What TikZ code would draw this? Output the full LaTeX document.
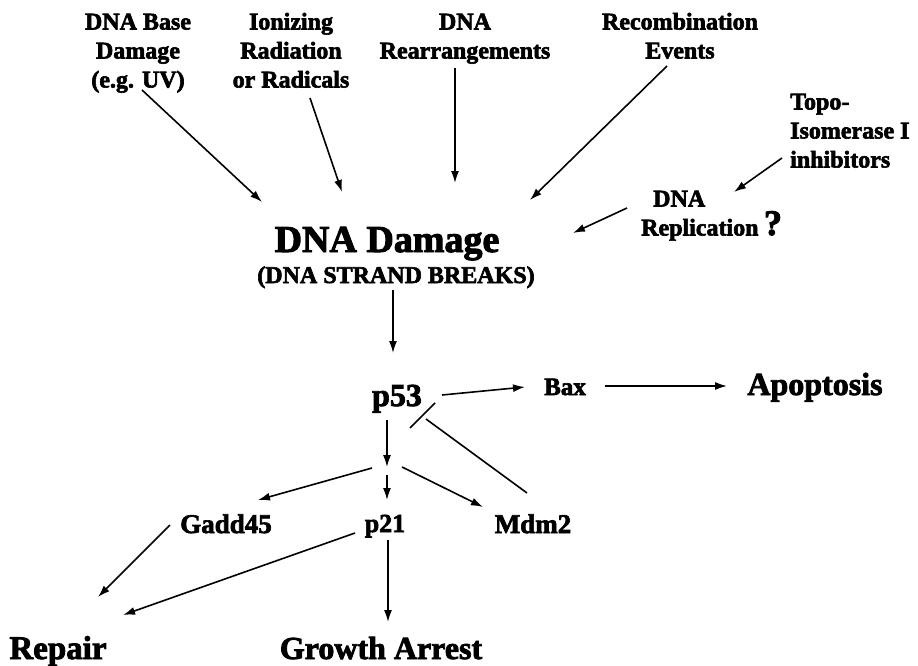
\documentclass[tikz,border=0pt]{standalone}
\usepackage{fontspec}
\setmainfont{Liberation Serif}[BoldFeatures={FakeBold=2.5}]
\usetikzlibrary{arrows.meta}
\begin{document}
\begin{tikzpicture}[x=1pt,y=-1pt,
  every node/.style={inner sep=0pt},
  lbl/.style={font=\bfseries\fontsize{24}{29}\selectfont, align=center, anchor=north},
  txt/.style={anchor=base, font=\bfseries\fontsize{#1}{#1}\selectfont},
  arr/.style={line width=1.6pt, -{Latex[length=12pt,width=8pt]}},
  ln/.style={line width=1.6pt}]
\useasboundingbox (0,0) rectangle (918,666);
% top labels
\node[lbl] (base) at (138,9) {\strut DNA Base\\\strut Damage\\\strut (e.g. UV)};
\node[lbl] (ion) at (291,9) {\strut Ionizing\\\strut Radiation\\\strut or Radicals};
\node[lbl] (rearr) at (465,9) {\strut DNA\\\strut Rearrangements};
\node[lbl] (recomb) at (680,9) {\strut Recombination\\\strut Events};
\node[lbl, align=left, anchor=north west] (topo) at (790,89) {\strut Topo-\\\strut Isomerase I\\\strut inhibitors};
\node[lbl, align=left, anchor=north west] (repl) at (641,186) {\strut\hspace*{12pt}DNA\\\strut Replication};
\node[txt=36] (q) at (773,235) {?};
% centre
\node[txt=38] (dmg) at (387,252) {DNA Damage};
\node[txt=24] (sb) at (396,283) {(DNA STRAND BREAKS)};
\node[txt=32] (p53) at (397,406) {p53};
\node[txt=25] (bax) at (565,395) {Bax};
\node[txt=32] (apo) at (815,395) {Apoptosis};
\coordinate (j) at (387,471);
\node[txt=27] (gadd) at (226,533) {Gadd45};
\node[txt=26] (p21) at (385,532) {p21};
\node[txt=27] (mdm2) at (533,533) {Mdm2};
\node[txt=33] (repair) at (58,659) {Repair};
\node[txt=32] (growth) at (381,659) {Growth Arrest};
% arrows into DNA damage
\draw[arr] ([shift={(4,81)}]base.north) -- ([shift={(-125,-50)}]dmg.base);
\draw[arr] ([shift={(19,89)}]ion.north) -- ([shift={(-45,-60)}]dmg.base);
\draw[arr] ([shift={(-10,59)}]rearr.north) -- ([shift={(68,-69)}]dmg.base);
\draw[arr] ([shift={(-13,57)}]recomb.north) -- ([shift={(143,-52)}]dmg.base);
\draw[arr] ([shift={(-8,69)}]topo.north west) -- ([shift={(93,6)}]repl.north west);
\draw[arr] ([shift={(-14,22)}]repl.north west) -- ([shift={(186,-19)}]dmg.base);
% p53 pathway
\draw[arr] ([shift={(-3,7)}]sb.base) -- ([shift={(-4,-53)}]p53.base);
\draw[arr] ([shift={(45,-11)}]p53.base) -- ([shift={(-40,-8)}]bax.base);
\draw[arr] ([shift={(40,-9)}]bax.base) -- ([shift={(-88,-9)}]apo.base);
\draw[ln] ([shift={(-6,-40)}]mdm2.base) -- ([shift={(29,13)}]p53.base);
\draw[ln] ([shift={(13,22)}]p53.base) -- ([shift={(38,-3)}]p53.base);
\draw[arr] ([shift={(-10,14)}]p53.base) -- ([shift={(0,-4)}]j);
\draw[arr] ([shift={(-15,-3)}]j) -- ([shift={(32,-33)}]gadd.base);
\draw[arr] ([shift={(0,4)}]j) -- ([shift={(2,-32)}]p21.base);
\draw[arr] ([shift={(15,-4)}]j) -- ([shift={(-50,-26)}]mdm2.base);
\draw[arr] ([shift={(-56,-8)}]gadd.base) -- ([shift={(40,-62)}]repair.base);
\draw[arr] ([shift={(-30,1)}]p21.base) -- ([shift={(65,-44)}]repair.base);
\draw[arr] ([shift={(3,8)}]p21.base) -- ([shift={(7,-37)}]growth.base);
\end{tikzpicture}
\end{document}
